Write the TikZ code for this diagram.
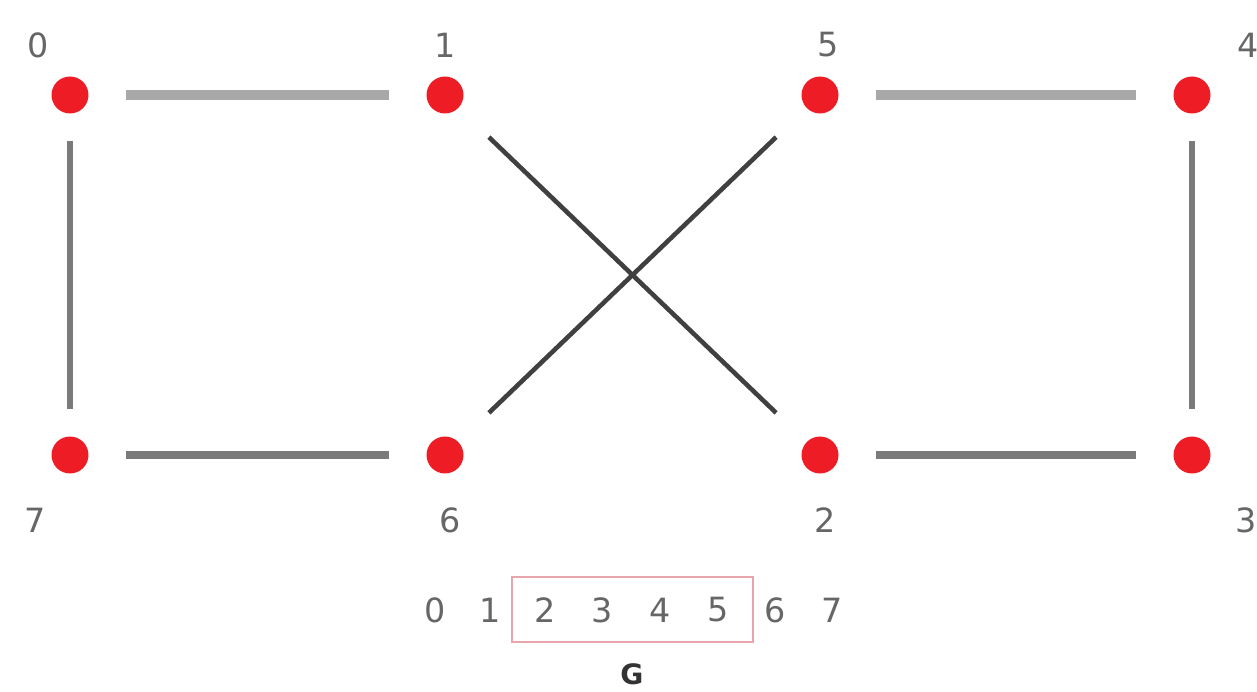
\documentclass[tikz,border=0pt]{standalone}
\usepackage{fontspec}
\setmainfont{DejaVu Sans}
\usetikzlibrary{positioning}
\definecolor{dotred}{HTML}{EE1C24}
\definecolor{edgelight}{HTML}{A8A8A8}
\definecolor{edgemid}{HTML}{7A7A7A}
\definecolor{edgedark}{HTML}{404040}
\definecolor{labgray}{HTML}{666666}
\definecolor{boxpink}{HTML}{E8A6AC}
\tikzset{
  % graph
  vx/.style={circle,fill=dotred,inner sep=0pt,minimum size=0.74cm},
  vl/.style={text=labgray,font=\fontsize{19}{22}\selectfont,inner sep=0pt},
  eh/.style={draw=edgelight,line width=5.6pt,shorten >=0.74cm,shorten <=0.74cm},
  ehd/.style={draw=edgemid,line width=4.2pt,shorten >=0.74cm,shorten <=0.74cm},
  ev/.style={draw=edgemid,line width=3.2pt,shorten >=0.54cm,shorten <=0.54cm},
  ex/.style={draw=edgedark,line width=2.6pt,shorten >=0.84cm,shorten <=0.84cm},
  % array
  cell/.style={text=labgray,font=\fontsize{19}{22}\selectfont,inner sep=0pt},
}
\begin{document}
\begin{tikzpicture}[x=0.02cm,y=-0.02cm]
  \useasboundingbox (0,0) rectangle (1257,692);
  \node[vx] (v0) at (70,95) {};
  \node[vx] (v1) at (445,95) {};
  \node[vx] (v5) at (820,95) {};
  \node[vx] (v4) at (1192,95) {};
  \node[vx] (v7) at (70,455) {};
  \node[vx] (v6) at (445,455) {};
  \node[vx] (v2) at (820,455) {};
  \node[vx] (v3) at (1192,455) {};
  \node[vl] at (38,45) {0};
  \node[vl] at (445,45) {1};
  \node[vl] at (828,45) {5};
  \node[vl] at (1248,45) {4};
  \node[vl] at (35,520) {7};
  \node[vl] at (450,520) {6};
  \node[vl] at (825,520) {2};
  \node[vl] at (1246,520) {3};
  \draw[eh] (v0) -- (v1);
  \draw[eh] (v5) -- (v4);
  \draw[ehd] (v7) -- (v6);
  \draw[ehd] (v2) -- (v3);
  \draw[ev] (v0) -- (v7);
  \draw[ev] (v4) -- (v3);
  \draw[ex] (v1) -- (v2);
  \draw[ex] (v5) -- (v6);
  % array below
  \foreach \i/\x in {0/435,1/490,2/545,3/602,4/660,5/718,6/775,7/832}
    \node[cell] (c\i) at (\x,610) {\i};
  \draw[boxpink,line width=1pt] (512,577) rectangle (753,642);
  \node[font=\bfseries\fontsize{16}{18}\selectfont,text=black!80,inner sep=0pt] (lbl) at (632,674) {G};
\end{tikzpicture}
\end{document}
